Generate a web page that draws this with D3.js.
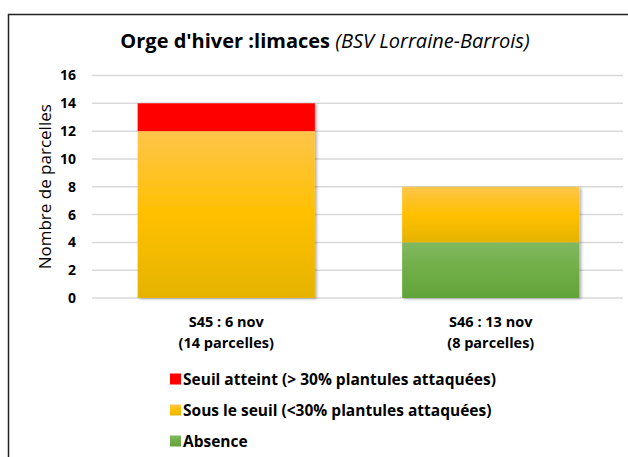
<!DOCTYPE html>
<html>
<head>
<meta charset="utf-8">
<script src="https://cdn.jsdelivr.net/npm/d3@7"></script>
<style>
  body { margin: 0; background: #fff; }
  svg { display: block; font-family: 'Open Sans', sans-serif; }
</style>
</head>
<body>
<div id="chart"></div>
<script>
// data
const categories = ['S45 : 6 nov|(14 parcelles)', 'S46 : 13 nov|(8 parcelles)']
const seuilAtteint = [2, 0]
const sousSeuil = [12, 4]
const absence = [0, 4]
const yTicks = [0, 2, 4, 6, 8, 10, 12, 14, 16]
const seriesNames = [
  'Seuil atteint (> 30% plantules attaquées)',
  'Sous le seuil (<30% plantules attaquées)',
  'Absence',
]

const width = 628
const height = 457

const svg = d3.select('#chart')
  .append('svg')
  .attr('width', width)
  .attr('height', height)

const defs = svg.append('defs')
const grad = (id, stops) => {
  const g = defs.append('linearGradient').attr('id', id)
    .attr('x1', 0).attr('y1', 0).attr('x2', 0).attr('y2', 1)
  stops.forEach(([o, c]) => g.append('stop').attr('offset', o).attr('stop-color', c))
}
grad('g-red', [[0, '#ff0000'], [1, '#ff0000']])
grad('g-yellow', [[0, '#fec54a'], [0.5, '#ffc000'], [1, '#e5b300']])
grad('g-green', [[0, '#80b960'], [0.5, '#70ad47'], [1, '#62a339']])

const shadow = defs.append('filter').attr('id', 'shadow')
  .attr('x', '-5%').attr('y', '-5%').attr('width', '115%').attr('height', '115%')
shadow.append('feDropShadow')
  .attr('dx', 2).attr('dy', 1).attr('stdDeviation', 1.5)
  .attr('flood-color', '#000').attr('flood-opacity', 0.3)

// frame
svg.append('rect')
  .attr('x', 8.5).attr('y', 14.5)
  .attr('width', 640).attr('height', 460)
  .attr('fill', 'none').attr('stroke', '#222').attr('stroke-width', 1.5)

const x = d3.scaleBand()
  .domain(categories)
  .range([94, 623])
  .paddingInner(0.33)
  .paddingOuter(0.165)

const y = d3.scaleLinear().domain([0, 16]).range([298, 75.5])

// grid
svg.append('g')
  .selectAll('line')
  .data(yTicks)
  .join('line')
  .attr('x1', 92).attr('x2', 623)
  .attr('y1', (d) => y(d)).attr('y2', (d) => y(d))
  .attr('stroke', '#d9d9d9').attr('stroke-width', 1.5)

// y axis labels
const yAxis = svg.append('g')
  .attr('transform', 'translate(76,0)')
  .call(d3.axisLeft(y).tickValues(yTicks).tickSize(0).tickPadding(0))
yAxis.select('.domain').remove()
yAxis.selectAll('text')
  .attr('font-family', "'Open Sans', sans-serif")
  .attr('font-size', 14).attr('font-weight', 'bold').attr('fill', '#000')

svg.append('text')
  .attr('transform', `translate(51,${y(8)}) rotate(-90)`)
  .attr('text-anchor', 'middle')
  .attr('font-size', 17)
  .text('Nombre de parcelles')

// stacked bars
const rows = categories.map((c, i) => ({
  cat: c, seuil: seuilAtteint[i], sous: sousSeuil[i], absence: absence[i],
}))
const stack = d3.stack().keys(['absence', 'sous', 'seuil'])(rows)
const fills = { absence: 'url(#g-green)', sous: 'url(#g-yellow)', seuil: 'url(#g-red)' }

const barG = svg.append('g').attr('filter', 'url(#shadow)')
barG.selectAll('g')
  .data(stack)
  .join('g')
  .attr('fill', (s) => fills[s.key])
  .selectAll('rect')
  .data((s) => s.filter((d) => d[1] > d[0]))
  .join('rect')
  .attr('x', (d) => x(d.data.cat))
  .attr('width', x.bandwidth())
  .attr('y', (d) => y(d[1]))
  .attr('height', (d) => y(d[0]) - y(d[1]))

// x labels
const xl = svg.append('g')
  .selectAll('text')
  .data(categories)
  .join('text')
  .attr('x', (d) => x(d) + x.bandwidth() / 2)
  .attr('y', 327)
  .attr('text-anchor', 'middle')
  .attr('font-size', 14.5).attr('font-weight', 'bold')
xl.selectAll('tspan')
  .data((d) => d.split('|'))
  .join('tspan')
  .attr('x', function () { return d3.select(this.parentNode).attr('x') })
  .attr('dy', (d, i) => i ? 21 : 0)
  .text((d) => d)

// title
const title = svg.append('text')
  .attr('x', 325).attr('y', 48)
  .attr('text-anchor', 'middle')
  .attr('font-size', 20)
title.append('tspan').attr('font-weight', 'bold').text("Orge d'hiver :limaces ")
title.append('tspan').attr('font-style', 'italic').text('(BSV Lorraine-Barrois)')

// legend
const legendColors = ['url(#g-red)', 'url(#g-yellow)', 'url(#g-green)']
const lg = svg.append('g')
  .selectAll('g')
  .data(seriesNames)
  .join('g')
  .attr('transform', (d, i) => `translate(170,${379 + i * 31})`)
lg.append('rect')
  .attr('x', 0).attr('y', -5.5).attr('width', 11).attr('height', 11)
  .attr('fill', (d, i) => legendColors[i])
lg.append('text')
  .attr('x', 13).attr('y', 6)
  .attr('font-size', 15.5).attr('font-weight', 'bold')
  .text((d) => d)
</script>
</body>
</html>
